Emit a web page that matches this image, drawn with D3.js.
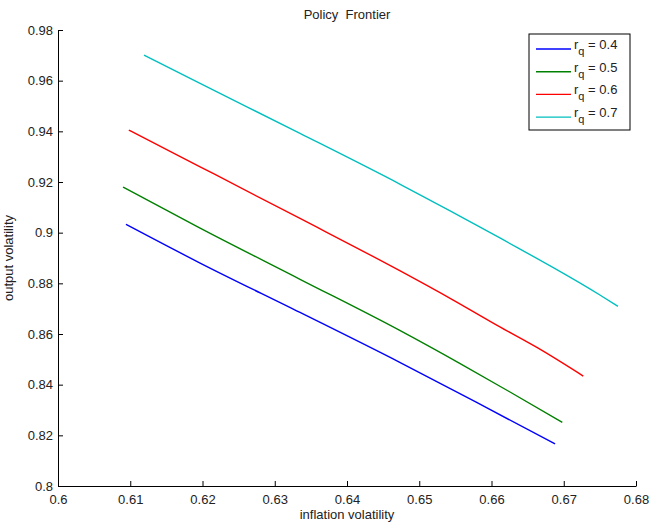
<!DOCTYPE html>
<html>
<head>
<meta charset="utf-8">
<script src="https://cdn.jsdelivr.net/npm/d3@7"></script>
<style>
  body { margin: 0; background: #fff; }
  text { font-family: "Liberation Sans", Arial, sans-serif; fill: #222; }
</style>
</head>
<body>
<div id="chart"></div>
<script>
// r_q values for each frontier
const seriesNames = ["0.4", "0.5", "0.6", "0.7"];
const seriesColors = ["#0000ff", "#008000", "#ff0000", "#00bfbf"];

// inflation volatility (x) / output volatility (y)
const blueX = [0.6094, 0.6196, 0.6335, 0.6473, 0.6584, 0.6688];
const blueY = [0.9033, 0.8881, 0.8685, 0.8488, 0.8323, 0.8166];
const greenX = [0.6090, 0.6196, 0.6335, 0.6473, 0.6556, 0.6625, 0.6698];
const greenY = [0.9180, 0.9019, 0.8816, 0.8614, 0.8484, 0.8372, 0.8251];
const redX = [0.6098, 0.6196, 0.6335, 0.6473, 0.6547, 0.6611, 0.6664, 0.6727];
const redY = [0.9405, 0.9261, 0.9056, 0.8850, 0.8734, 0.8629, 0.8545, 0.8434];
const cyanX = [0.6119, 0.6196, 0.6335, 0.6473, 0.6611, 0.6750, 0.6775];
const cyanY = [0.9701, 0.9590, 0.9392, 0.9192, 0.8980, 0.8754, 0.8709];

const xTicks = [0.6, 0.61, 0.62, 0.63, 0.64, 0.65, 0.66, 0.67, 0.68];
const yTicks = [0.8, 0.82, 0.84, 0.86, 0.88, 0.9, 0.92, 0.94, 0.96, 0.98];

const series = [
    { name: seriesNames[0], color: seriesColors[0], xs: blueX, ys: blueY },
    { name: seriesNames[1], color: seriesColors[1], xs: greenX, ys: greenY },
    { name: seriesNames[2], color: seriesColors[2], xs: redX, ys: redY },
    { name: seriesNames[3], color: seriesColors[3], xs: cyanX, ys: cyanY }
];

const W = 652, H = 527;
const margin = { top: 30, right: 16, bottom: 41, left: 58 };
const width = W - margin.left - margin.right;
const height = H - margin.top - margin.bottom;

const svg = d3.select("#chart")
    .append("svg")
    .attr("width", W)
    .attr("height", H)
    .append("g")
    .attr("transform", `translate(${margin.left},${margin.top})`);

const x = d3.scaleLinear().domain([0.6, 0.68]).range([0, width]);
const y = d3.scaleLinear().domain([0.8, 0.98]).range([height, 0]);

const fmt = d => String(+d.toFixed(2));

// bottom axis, ticks pointing inward
const gx = svg.append("g")
    .attr("transform", `translate(0,${height})`)
    .call(d3.axisBottom(x).tickValues(xTicks).tickFormat(fmt).tickSizeInner(-5).tickSizeOuter(0).tickPadding(9));

const gy = svg.append("g")
    .call(d3.axisLeft(y).tickValues(yTicks).tickFormat(fmt).tickSizeInner(-5).tickSizeOuter(0).tickPadding(5));

[gx, gy].forEach(g => {
    g.select(".domain").attr("stroke", "#000");
    g.selectAll(".tick line").attr("stroke", "#000");
    g.selectAll("text").style("font-size", "13px").attr("fill", "#222");
});
gx.selectAll("text").attr("dy", "0.71em");

const line = d3.line()
    .curve(d3.curveMonotoneX)
    .x(d => x(d[0]))
    .y(d => y(d[1]));

svg.selectAll(".frontier")
    .data(series)
    .enter()
    .append("path")
    .attr("class", "frontier")
    .attr("fill", "none")
    .attr("stroke", d => d.color)
    .attr("stroke-width", 1.4)
    .attr("d", d => line(d.xs.map((v, i) => [v, d.ys[i]])));

// title and labels
svg.append("text")
    .attr("x", width / 2)
    .attr("y", -11)
    .attr("text-anchor", "middle")
    .style("font-size", "13px")
    .style("white-space", "pre")
    .text("Policy\u00a0 Frontier");

svg.append("text")
    .attr("x", width / 2)
    .attr("y", height + 33)
    .attr("text-anchor", "middle")
    .style("font-size", "13px")
    .text("inflation volatility");

svg.append("text")
    .attr("transform", "rotate(-90)")
    .attr("x", -height / 2)
    .attr("y", -45)
    .attr("text-anchor", "middle")
    .style("font-size", "13px")
    .text("output volatility");

// legend
const lx = 529 - margin.left, ly = 34 - margin.top;
const legend = svg.append("g").attr("transform", `translate(${lx},${ly})`);
legend.append("rect")
    .attr("width", 101)
    .attr("height", 96)
    .attr("fill", "#fff")
    .attr("stroke", "#000")
    .attr("stroke-width", 1);

const items = legend.selectAll(".item")
    .data(series)
    .enter()
    .append("g")
    .attr("transform", (d, i) => `translate(0,${15 + i * 22.7})`);

items.append("line")
    .attr("x1", 7).attr("x2", 42)
    .attr("y1", 0).attr("y2", 0)
    .attr("stroke", d => d.color)
    .attr("stroke-width", 1.4);

const lt = items.append("text")
    .attr("x", 45)
    .attr("y", 0)
    .style("font-size", "13px");
lt.append("tspan").text("r");
lt.append("tspan").attr("dy", 6).style("font-size", "11px").text("q");
lt.append("tspan").attr("dy", -6).text(d => " = " + d.name);
</script>
</body>
</html>
